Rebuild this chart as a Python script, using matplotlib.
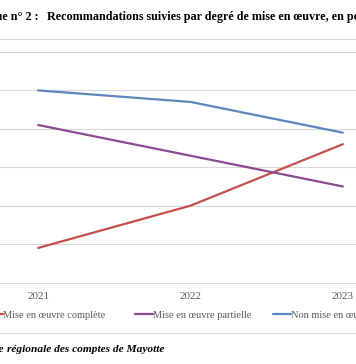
import matplotlib
matplotlib.use("Agg")
import matplotlib.pyplot as plt
from matplotlib.patches import Rectangle

# =========================
# DATA
# =========================

years = ["2021", "2022", "2023"]
complete = [9, 20, 36]
partielle = [41, 33, 25]
non_mise = [50, 47, 39]

series_names = ["Mise en œuvre complète", "Mise en œuvre partielle", "Non mise en œuvre"]
series_colors = ["#c4504c", "#8b4a8d", "#5b87be"]
y_ticks = [0, 10, 20, 30, 40, 50, 60]

# =========================
# FIGURE
# =========================

W, H = 356, 364
fig = plt.figure(figsize=(W / 100, H / 100), dpi=100)
plt.rcParams["font.family"] = ["Liberation Serif", "DejaVu Serif"]

# plot area is wider than the crop, only the middle part is visible
ax = fig.add_axes([-38 / W, (H - 282.5) / H, 457 / W, 230.5 / H])

x = list(range(len(years)))
lines = []
for vals, name, col in zip([complete, partielle, non_mise], series_names, series_colors):
    ln, = ax.plot(x, vals, color=col, lw=1.6, label=name, solid_capstyle="round")
    lines.append(ln)

ax.set_xlim(-0.5, len(years) - 0.5)
ax.set_ylim(0, 60)
ax.set_yticks(y_ticks)
ax.set_yticklabels([])
ax.tick_params(axis="y", length=0)
ax.set_xticks(x)
ax.set_xticklabels(years, fontsize=8, color="#595959")
ax.tick_params(axis="x", length=0, pad=7)
ax.grid(axis="y", color="#d9d9d9", lw=0.8)
ax.set_axisbelow(True)
for s in ["top", "right", "left"]:
    ax.spines[s].set_visible(False)
ax.spines["bottom"].set_color("#d9d9d9")
ax.spines["bottom"].set_linewidth(0.8)

# legend, one entry per block so the spacing follows the original
legend_x = [-15, 135, 273]
for ln, lx in zip(lines, legend_x):
    leg = fig.legend(
        handles=[ln],
        loc="center left",
        bbox_to_anchor=(lx / W, (H - 315) / H),
        frameon=False,
        fontsize=7.5,
        handlelength=1.7,
        handletextpad=0.0,
        borderaxespad=0,
        borderpad=0,
    )
    for t in leg.get_texts():
        t.set_color("#595959")

# chart border
fig.add_artist(Rectangle((-0.1, (H - 333) / H), 1.2, 294 / H,
                         transform=fig.transFigure, fill=False,
                         edgecolor="#d9d9d9", lw=0.8))

# title and source
fig.text(39 / W, (H - 17) / H, "Graphique n° 2 :", ha="right", va="center",
         fontsize=8.7, fontweight="bold")
fig.text(47 / W, (H - 17) / H,
         "Recommandations suivies par degré de mise en œuvre, en pourcentage",
         ha="left", va="center", fontsize=8.7, fontweight="bold")
fig.text(4 / W, (H - 350) / H, "Source : chambre", ha="right", va="center",
         fontsize=8.2, fontweight="bold", style="italic")
fig.text(7 / W, (H - 350) / H, "régionale des comptes de Mayotte", ha="left",
         va="center", fontsize=8.2, fontweight="bold", style="italic")

fig.savefig("out.png", dpi=100)
